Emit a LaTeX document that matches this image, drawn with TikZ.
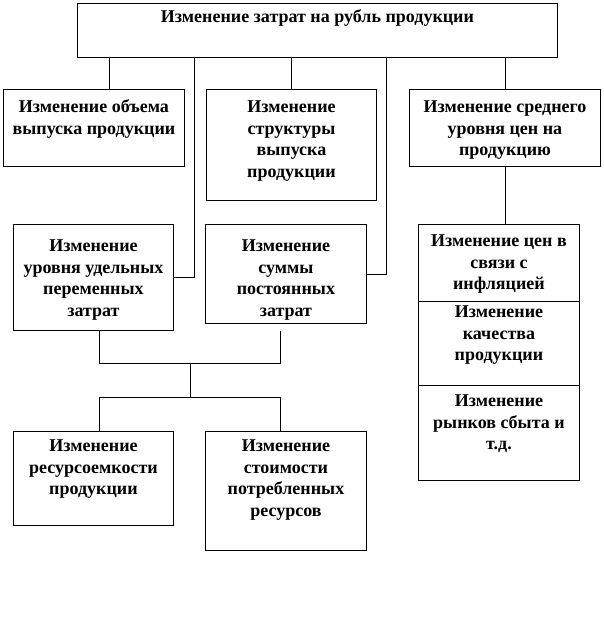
\documentclass[tikz,border=0pt]{standalone}
\usepackage{fontspec}
\setmainfont{Liberation Serif}
\usepackage{tikz}
\newcommand{\boxtext}[4]{\parbox[c][#2][t]{#1}{\centering\vspace*{#3}\strut#4\par}}

\begin{document}
\begin{tikzpicture}[x=1pt, y=-1pt,
		box/.style={draw, line width=0.9pt, inner sep=0pt, anchor=north west,
			font=\bfseries\fontsize{18}{21.5}\selectfont},
		link/.style={line width=0.9pt}]
	\useasboundingbox (0,0) rectangle (604,629);
	% top level
	\node[box] (top) at (77,3) {\boxtext{480pt}{54pt}{4pt}{Изменение затрат на рубль продукции}};
	% factors
	\node[box] (vol) at (3,89) {\boxtext{181pt}{77pt}{8pt}{Изменение объема\\ выпуска продукции}};
	\node[box] (struct) at (206,89) {\boxtext{170pt}{111pt}{8pt}{Изменение\\ структуры\\ выпуска\\ продукции}};
	\node[box] (avgprice) at (409,89) {\boxtext{191pt}{77pt}{8pt}{Изменение среднего\\ уровня цен на\\ продукцию}};
	\node[box] (vardelta) at (13,224) {\boxtext{160pt}{106pt}{12pt}{Изменение\\ уровня удельных\\ переменных\\ затрат}};
	\node[box] (sumcost) at (205,224) {\boxtext{161pt}{99pt}{12pt}{Изменение\\ суммы\\ постоянных\\ затрат}};
	% price causes
	\node[box] (infl) at (418,224) {\boxtext{161pt}{77pt}{7pt}{Изменение цен в\\ связи с\\ инфляцией}};
	\node[box] (quality) at (418,301) {\boxtext{161pt}{84pt}{1pt}{Изменение\\ качества\\ продукции}};
	\node[box] (markets) at (418,385) {\boxtext{161pt}{95pt}{6pt}{Изменение\\ рынков сбыта и\\ т.д.}};
	% resources
	\node[box] (resint) at (13,431) {\boxtext{160pt}{94pt}{5pt}{Изменение\\ ресурсоемкости\\ продукции}};
	\node[box] (rescost) at (205,431) {\boxtext{161pt}{119pt}{5pt}{Изменение\\ стоимости\\ потребленных\\ ресурсов}};

	\draw[link] ([xshift=15.5pt]vol.north) -- ([xshift=15.5pt]vol.north |- top.south);
	\draw[link] (struct.north) -- (struct.north |- top.south);
	\draw[link] ([xshift=0.5pt]avgprice.north) -- ([xshift=0.5pt]avgprice.north |- top.south);
	\draw[link] (vardelta.east) -- ++(21,0) coordinate (vd) -- (vd |- top.south);
	\draw[link] (sumcost.east) -- ++(20,0) coordinate (sc) -- (sc |- top.south);
	\draw[link] ([xshift=0.5pt]avgprice.south) -- ([xshift=0.5pt]avgprice.south |- infl.north);
	\draw[link] ([xshift=6pt]vardelta.south) -- ++(0,33) -| coordinate[pos=0.25] (upmid)
		([xshift=-5.5pt, yshift=-7pt]sumcost.south);
	\draw[link] ([xshift=6pt]resint.north) -- ++(0,-34) -| coordinate[pos=0.25] (lowmid)
		([xshift=-5.5pt]rescost.north);
	\draw[link] (upmid) -- (lowmid);
\end{tikzpicture}
\end{document}
